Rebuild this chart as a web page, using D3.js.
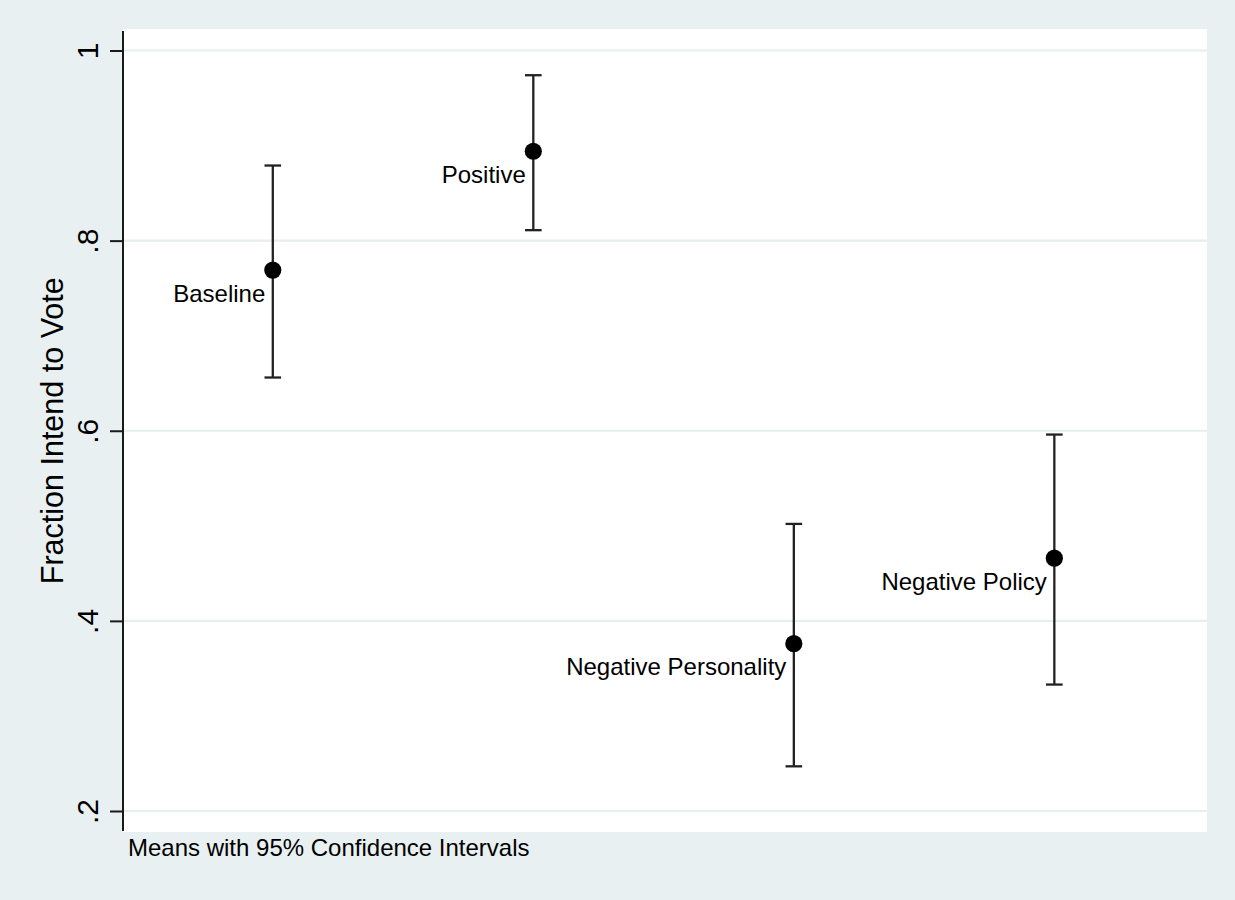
<!DOCTYPE html>
<html>
<head>
<meta charset="utf-8">
<script src="https://cdn.jsdelivr.net/npm/d3@7"></script>
<style>
  html, body { margin: 0; padding: 0; background: #e9f0f2; }
  svg { display: block; font-family: "Liberation Sans", Arial, Helvetica, sans-serif; }
</style>
</head>
<body>
<svg id="chart" width="1235" height="900"></svg>
<script>
// Treatment groups and their means with 95% confidence bounds
const groups = ["Baseline", "Positive", "Negative Personality", "Negative Policy"];
const groupPos = [1, 2, 3, 4];
const means = [0.769, 0.894, 0.376, 0.466];
const ciLow = [0.656, 0.811, 0.247, 0.333];
const ciHigh = [0.879, 0.974, 0.502, 0.596];

// y-axis ticks and their printed labels
const yTicks = [0.2, 0.4, 0.6, 0.8, 1];
const yTickLabels = [".2", ".4", ".6", ".8", "1"];

const yTitle = "Fraction Intend to Vote";
const note = "Means with 95% Confidence Intervals";

const W = 1235, H = 900;
const plot = { left: 123, right: 1207, top: 29, bottom: 832 };

const svg = d3.select("#chart");

// outer graph region
svg.append("rect").attr("width", W).attr("height", H).attr("fill", "#e9f0f2");

// plot region
svg.append("rect")
  .attr("x", plot.left).attr("y", plot.top)
  .attr("width", plot.right - plot.left).attr("height", plot.bottom - plot.top)
  .attr("fill", "#ffffff");

const x = d3.scaleLinear().domain([0.425, 4.586]).range([plot.left, plot.right]);
const y = d3.scaleLinear().domain([0.2, 1]).range([811, 50.5]);

// horizontal grid lines
svg.append("g").selectAll("line").data(yTicks).join("line")
  .attr("x1", plot.left).attr("x2", plot.right)
  .attr("y1", d => y(d)).attr("y2", d => y(d))
  .attr("stroke", "#e6eef1").attr("stroke-width", 2.2);

// y axis with rotated tick labels
const yAxis = d3.axisLeft(y)
  .tickValues(yTicks)
  .tickFormat((d, i) => yTickLabels[i])
  .tickSize(13)
  .tickSizeOuter(0);

const gy = svg.append("g").attr("transform", `translate(${plot.left},0)`).call(yAxis);
gy.select(".domain").remove();
gy.selectAll(".tick line").attr("stroke", "#1a1a1a").attr("stroke-width", 2);
gy.selectAll(".tick text")
  .attr("x", null).attr("dy", null)
  .attr("text-anchor", "middle")
  .attr("transform", "translate(-25,0) rotate(-90)")
  .attr("fill", "#000")
  .style("font-size", "30px")
  .style("font-family", "'Liberation Sans', Arial, Helvetica, sans-serif");

// axis line
svg.append("line")
  .attr("x1", plot.left).attr("x2", plot.left)
  .attr("y1", plot.top + 2).attr("y2", plot.bottom - 1)
  .attr("stroke", "#1a1a1a").attr("stroke-width", 2);

// axis title
svg.append("text")
  .attr("transform", `translate(63,${(y(0.2) + y(1)) / 2}) rotate(-90)`)
  .attr("text-anchor", "middle")
  .attr("fill", "#000")
  .style("font-size", "30.5px")
  .text(yTitle);

const data = groups.map((g, i) => ({ name: g, pos: groupPos[i], mean: means[i], lo: ciLow[i], hi: ciHigh[i] }));

// confidence interval bars with caps
const bars = svg.append("g").attr("stroke", "#222").attr("stroke-width", 2.3);
bars.selectAll(".ci").data(data).join("line")
  .attr("x1", d => x(d.pos)).attr("x2", d => x(d.pos))
  .attr("y1", d => y(d.lo)).attr("y2", d => y(d.hi));
bars.selectAll(".capHi").data(data).join("line")
  .attr("x1", d => x(d.pos) - 8.3).attr("x2", d => x(d.pos) + 8.3)
  .attr("y1", d => y(d.hi)).attr("y2", d => y(d.hi));
bars.selectAll(".capLo").data(data).join("line")
  .attr("x1", d => x(d.pos) - 8.3).attr("x2", d => x(d.pos) + 8.3)
  .attr("y1", d => y(d.lo)).attr("y2", d => y(d.lo));

// mean markers
svg.append("g").selectAll("circle").data(data).join("circle")
  .attr("cx", d => x(d.pos)).attr("cy", d => y(d.mean))
  .attr("r", 8.6).attr("fill", "#000");

// marker labels, placed left of each marker
svg.append("g").selectAll("text").data(data).join("text")
  .attr("x", d => x(d.pos) - 7.5)
  .attr("y", d => y(d.mean) + 31.5)
  .attr("text-anchor", "end")
  .attr("fill", "#000")
  .style("font-size", "24px")
  .text(d => d.name);

// note under the plot
svg.append("text")
  .attr("x", 128).attr("y", 856)
  .attr("fill", "#000")
  .style("font-size", "24px")
  .text(note);
</script>
</body>
</html>
